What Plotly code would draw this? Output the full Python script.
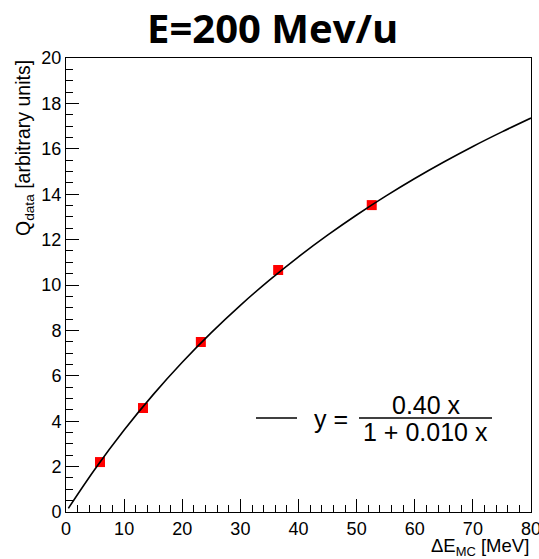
import plotly.graph_objects as go

# measured data points
data_x = [5.85, 13.25, 23.2, 36.5, 52.6]
data_y = [2.2, 4.58, 7.49, 10.66, 13.52]

# fit curve
fit_x = [0.4, 5, 10, 15, 20, 25, 30, 35, 40, 45, 50, 55, 60, 65, 70, 75, 80]
fit_y = [0.16, 1.895, 3.611, 5.171, 6.596, 7.902, 9.105, 10.213, 11.242,
         12.195, 13.085, 13.914, 14.691, 15.418, 16.103, 16.745, 17.354]

title_text = "E=200 Mev/u"
x_title = "ΔE<sub>MC</sub> [MeV]"
y_title = "Q<sub>data</sub> [arbitrary units]"
legend_num = "0.40 x"
legend_den = "1 + 0.010 x"

FONT = "Liberation Sans, Arial, Helvetica, sans-serif"

fig = go.Figure()
fig.add_trace(go.Scatter(x=data_x, y=data_y, mode="markers",
                         marker=dict(symbol="square", size=10, color="#ff0000",
                                     line=dict(width=0)),
                         showlegend=False))
fig.add_trace(go.Scatter(x=fit_x, y=fit_y, mode="lines",
                         line=dict(color="black", width=1.6, shape="spline"),
                         showlegend=False))

W, H = 539, 559
L, R, T, B = 66, 8, 58, 47
pw, ph = W - L - R, H - T - B

def px(x):
    return (x - L) / pw

def py(y):
    return (H - B - y) / ph

axis_common = dict(showgrid=False, zeroline=False, showline=True, linecolor="black",
                   linewidth=1, mirror=True, ticks="inside", tickcolor="black",
                   ticklen=13, tickwidth=1, ticklabeloverflow="allow", automargin=False,
                   tickfont=dict(family=FONT, size=18, color="black"))

fig.update_xaxes(range=[0, 80], dtick=10, tick0=0,
                 minor=dict(dtick=2, ticklen=7, ticks="inside", tickcolor="black"),
                 **axis_common)
fig.update_yaxes(range=[0, 20], dtick=2, tick0=0,
                 minor=dict(dtick=0.5, ticklen=7, ticks="inside", tickcolor="black"),
                 **axis_common)

LEG = 25
annotations = [
    dict(text="<b>" + title_text + "</b>", x=px(272), y=py(28), xref="paper", yref="paper",
         showarrow=False, xanchor="center", yanchor="middle",
         font=dict(family="Open Sans, sans-serif", size=40, color="black")),
    dict(text=x_title, x=px(531), y=py(547), xref="paper", yref="paper",
         showarrow=False, xanchor="right", yanchor="middle",
         font=dict(family=FONT, size=18.5, color="black")),
    dict(text=y_title, x=px(24), y=py(58), xref="paper", yref="paper",
         showarrow=False, xanchor="center", yanchor="top", textangle=-90,
         font=dict(family=FONT, size=19.5, color="black")),
    dict(text="y =", x=px(331), y=py(419), xref="paper", yref="paper",
         showarrow=False, xanchor="center", yanchor="middle",
         font=dict(family=FONT, size=LEG, color="black")),
    dict(text=legend_num, x=px(426), y=py(405), xref="paper", yref="paper",
         showarrow=False, xanchor="center", yanchor="middle",
         font=dict(family=FONT, size=LEG, color="black")),
    dict(text=legend_den, x=px(425), y=py(432), xref="paper", yref="paper",
         showarrow=False, xanchor="center", yanchor="middle",
         font=dict(family=FONT, size=LEG, color="black")),
]

shapes = [
    dict(type="line", xref="paper", yref="paper", x0=px(256), x1=px(297),
         y0=py(418), y1=py(418), line=dict(color="black", width=1.6)),
    dict(type="line", xref="paper", yref="paper", x0=px(359), x1=px(492),
         y0=py(418), y1=py(418), line=dict(color="black", width=1.3)),
]

fig.update_layout(width=W, height=H, margin=dict(l=L, r=R, t=T, b=B, autoexpand=False),
                  plot_bgcolor="white", paper_bgcolor="white",
                  annotations=annotations, shapes=shapes,
                  font=dict(family=FONT, color="black"))

fig.write_html("out.html")
